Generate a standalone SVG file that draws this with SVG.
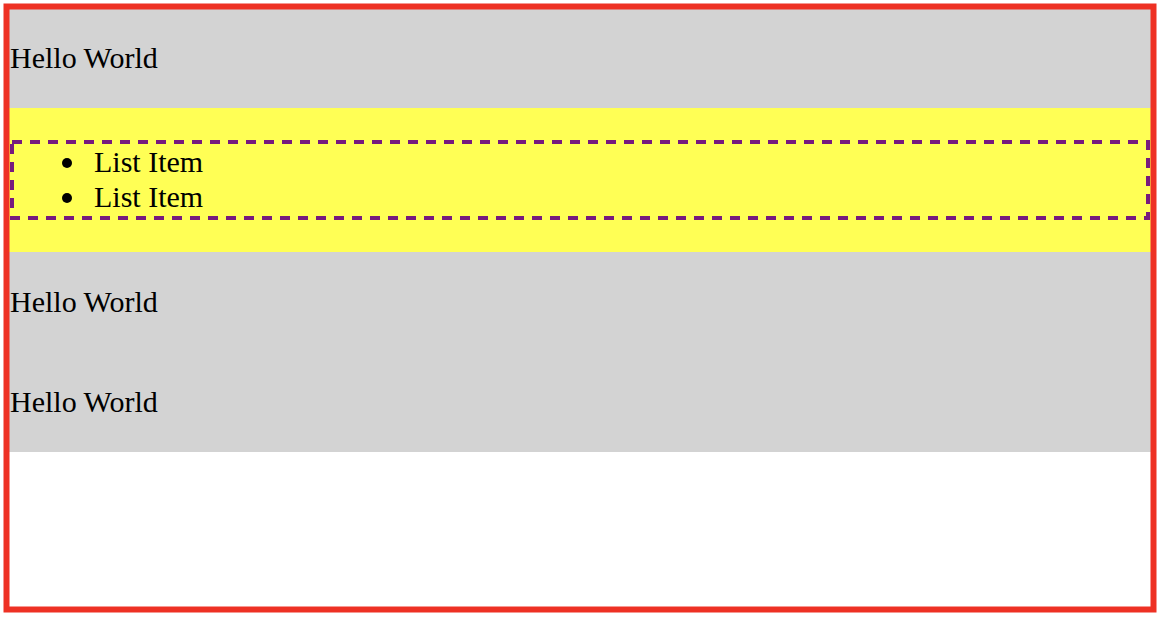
<svg xmlns="http://www.w3.org/2000/svg" width="1160" height="618" viewBox="0 0 1160 618">
<style>
text{font-family:"Liberation Serif","Times New Roman",serif;font-size:30px;fill:#000}
.gray{fill:#d3d3d3}
</style>
<rect width="1160" height="618" fill="#fff"/>
<g id="row1"><rect class="gray" x="7" y="7" width="1147" height="101"/><text x="10" y="68">Hello World</text></g>
<g id="list">
<rect x="7" y="108" width="1147" height="144" fill="#ffff55"/>
<rect x="12" y="142" width="1136" height="76" fill="none" stroke="#771a7e" stroke-width="4" stroke-dasharray="10,8"/>
<circle cx="67" cy="163" r="5"/><text x="94" y="172">List Item</text>
<circle cx="67" cy="198" r="5"/><text x="94" y="207">List Item</text>
</g>
<g id="row2"><rect class="gray" x="7" y="252" width="1147" height="100"/><text x="10" y="312">Hello World</text></g>
<g id="row3"><rect class="gray" x="7" y="352" width="1147" height="100"/><text x="10" y="412">Hello World</text></g>
<rect x="6.5" y="6.5" width="1147" height="603" fill="none" stroke="#ee3124" stroke-width="6"/>
</svg>
